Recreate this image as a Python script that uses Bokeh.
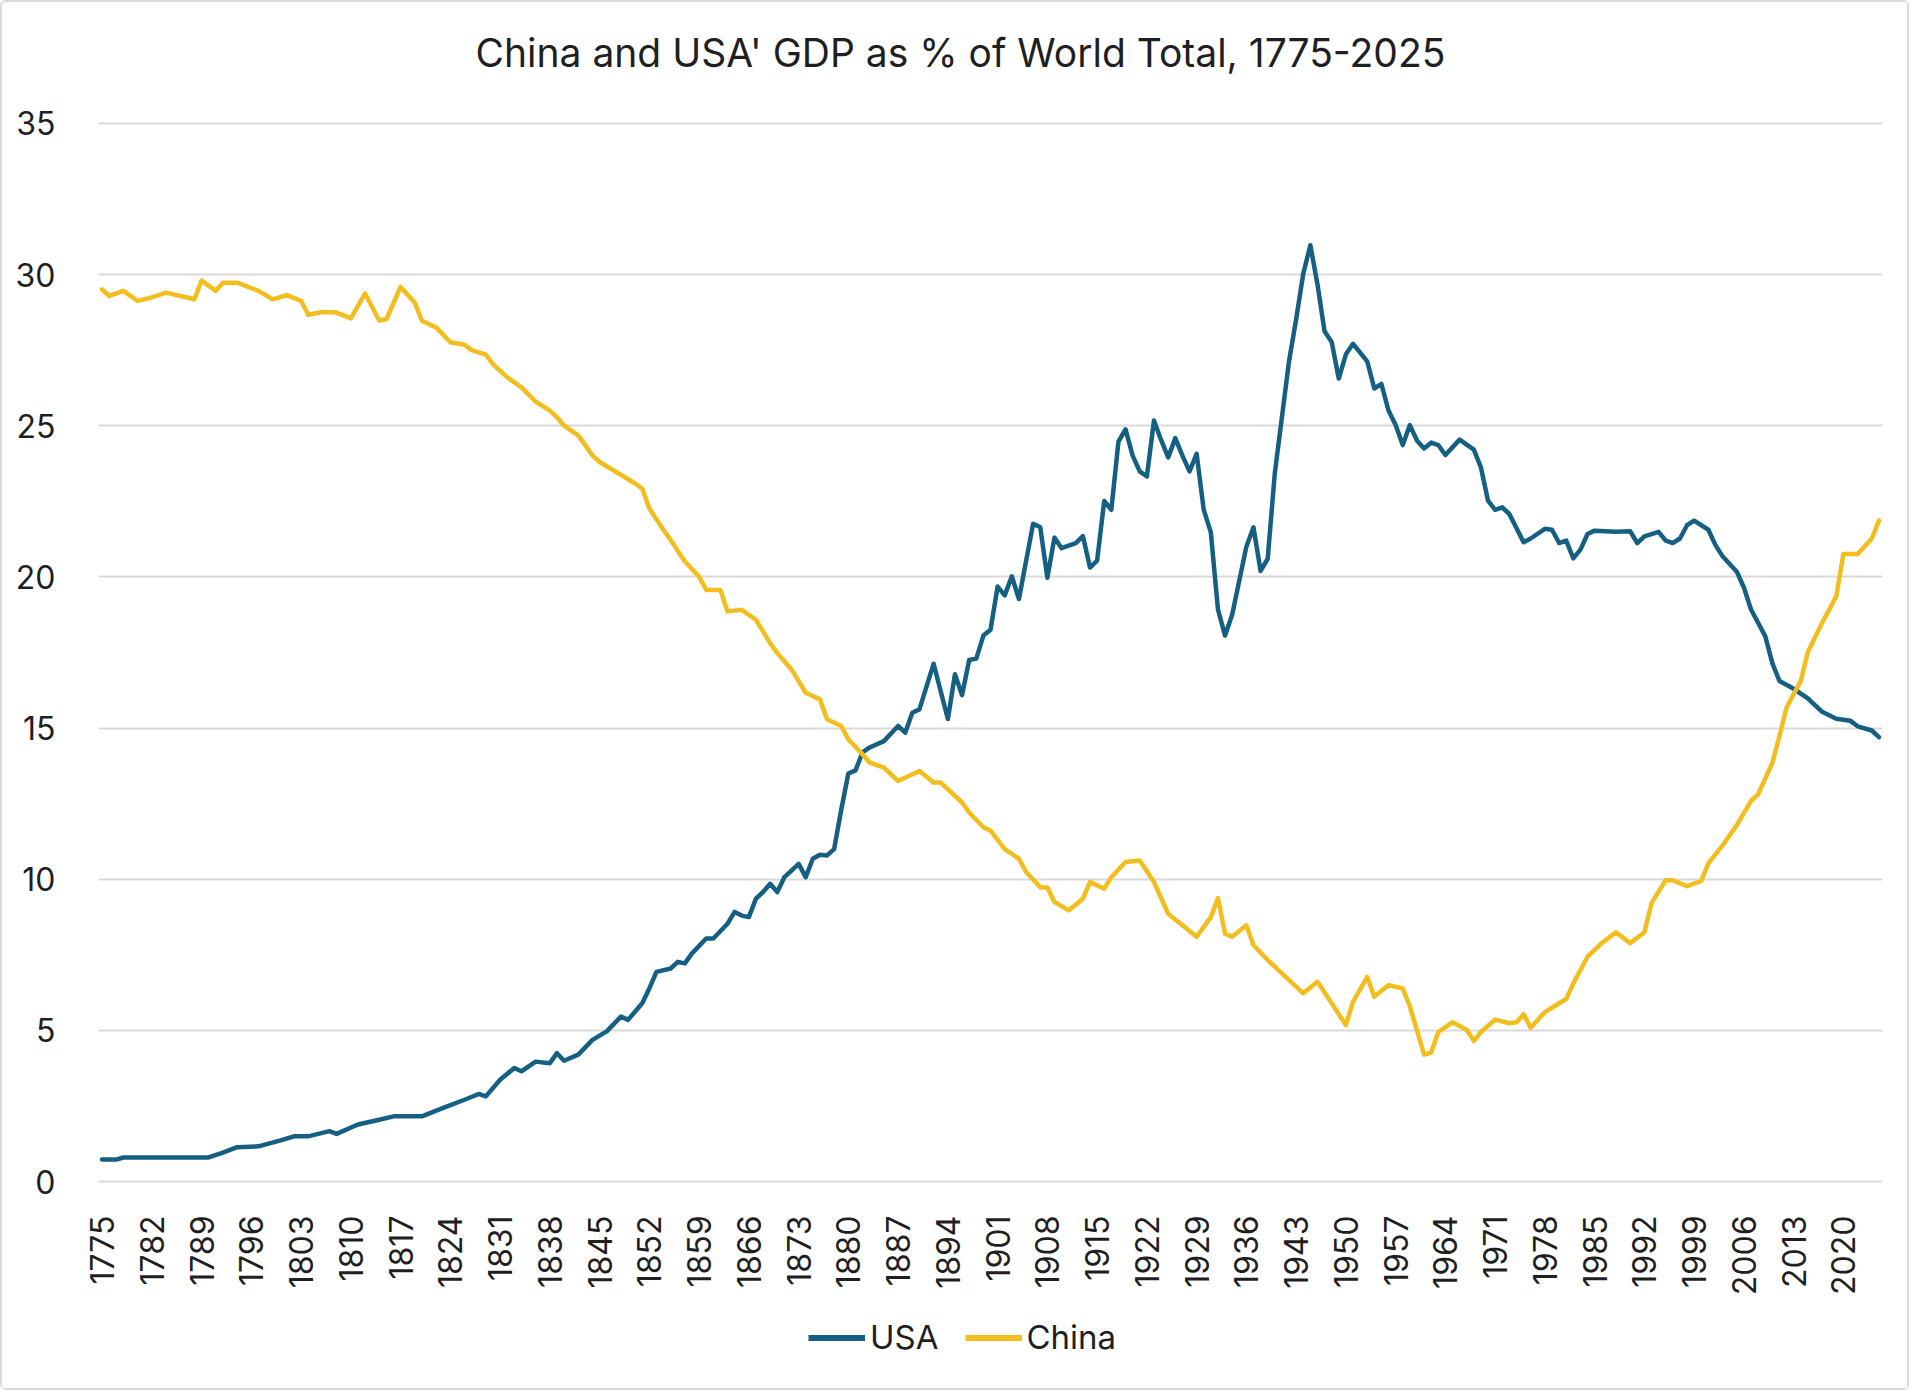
from math import pi
from bokeh.plotting import figure
from bokeh.layouts import column
from bokeh.models import FixedTicker, Legend, LegendItem, Range1d, Title
from bokeh.embed import file_html
from bokeh.resources import INLINE

# ---------------- data ----------------
usa_years = [1775, 1777, 1778, 1790, 1792, 1794, 1797, 1800, 1802, 1804,
             1807, 1808, 1811, 1814, 1816, 1820, 1823, 1826, 1828, 1829,
             1831, 1833, 1834, 1836, 1838, 1839, 1840, 1842, 1844, 1846,
             1848, 1849, 1851, 1852, 1853, 1855, 1856, 1857, 1858, 1860,
             1861, 1863, 1864, 1865, 1866, 1867, 1868, 1869, 1870, 1871,
             1872, 1873, 1874, 1875, 1876, 1877, 1878, 1879, 1880, 1881,
             1882, 1883, 1885, 1887, 1888, 1889, 1890, 1892, 1894, 1895,
             1896, 1897, 1898, 1899, 1900, 1901, 1902, 1903, 1904, 1906,
             1907, 1908, 1909, 1910, 1912, 1913, 1914, 1915, 1916, 1917,
             1918, 1919, 1920, 1921, 1922, 1923, 1924, 1925, 1926, 1927,
             1928, 1929, 1930, 1931, 1932, 1933, 1934, 1936, 1937, 1938,
             1939, 1940, 1942, 1943, 1944, 1945, 1946, 1947, 1948, 1949,
             1950, 1951, 1953, 1954, 1955, 1956, 1957, 1958, 1959, 1960,
             1961, 1962, 1963, 1964, 1966, 1968, 1969, 1970, 1971, 1972,
             1973, 1975, 1976, 1978, 1979, 1980, 1981, 1982, 1983, 1984,
             1985, 1988, 1990, 1991, 1992, 1994, 1995, 1996, 1997, 1998,
             1999, 2001, 2002, 2003, 2005, 2006, 2007, 2009, 2010, 2011,
             2013, 2015, 2017, 2019, 2021, 2022, 2024, 2025]
usa_share = [0.73, 0.73, 0.80, 0.80, 0.96, 1.14, 1.17, 1.36, 1.50, 1.50,
             1.67, 1.58, 1.89, 2.05, 2.16, 2.16, 2.44, 2.71, 2.90, 2.82,
             3.37, 3.76, 3.65, 3.97, 3.92, 4.25, 4.00, 4.20, 4.69, 4.97,
             5.46, 5.35, 5.90, 6.39, 6.94, 7.05, 7.27, 7.22, 7.55, 8.04,
             8.04, 8.53, 8.92, 8.80, 8.75, 9.36, 9.58, 9.85, 9.58, 10.07,
             10.29, 10.51, 10.07, 10.68, 10.81, 10.79, 11.00, 12.30, 13.50, 13.60,
             14.20, 14.36, 14.57, 15.07, 14.85, 15.51, 15.62, 17.13, 15.30, 16.78,
             16.09, 17.25, 17.30, 18.06, 18.25, 19.68, 19.39, 20.02, 19.27, 21.76,
             21.64, 19.97, 21.30, 20.95, 21.12, 21.35, 20.31, 20.54, 22.51, 22.22,
             24.47, 24.88, 24.01, 23.49, 23.32, 25.17, 24.53, 23.95, 24.59, 24.01,
             23.49, 24.07, 22.22, 21.47, 18.93, 18.06, 18.75, 21.00, 21.64, 20.20,
             20.60, 23.43, 27.13, 28.52, 30.02, 30.97, 29.68, 28.12, 27.77, 26.56,
             27.36, 27.71, 27.13, 26.23, 26.38, 25.50, 25.02, 24.36, 25.02, 24.51,
             24.25, 24.44, 24.36, 24.03, 24.54, 24.21, 23.62, 22.52, 22.22, 22.30,
             22.08, 21.15, 21.27, 21.59, 21.56, 21.12, 21.20, 20.61, 20.90, 21.42,
             21.53, 21.49, 21.51, 21.12, 21.34, 21.49, 21.20, 21.12, 21.27, 21.71,
             21.86, 21.56, 21.05, 20.68, 20.17, 19.65, 18.92, 18.04, 17.15, 16.56,
             16.30, 15.98, 15.54, 15.31, 15.24, 15.06, 14.92, 14.70]

china_years = [1775, 1776, 1778, 1780, 1782, 1784, 1788, 1789, 1791, 1792,
               1794, 1797, 1799, 1801, 1803, 1804, 1806, 1808, 1810, 1812,
               1814, 1815, 1817, 1819, 1820, 1822, 1824, 1826, 1827, 1829,
               1830, 1832, 1834, 1836, 1838, 1839, 1840, 1841, 1842, 1844,
               1845, 1847, 1850, 1851, 1852, 1854, 1855, 1857, 1859, 1860,
               1862, 1863, 1865, 1867, 1869, 1870, 1872, 1874, 1875, 1876,
               1877, 1879, 1880, 1882, 1883, 1885, 1887, 1890, 1892, 1893,
               1896, 1897, 1899, 1900, 1902, 1904, 1905, 1907, 1908, 1909,
               1911, 1913, 1914, 1916, 1917, 1919, 1921, 1923, 1925, 1927,
               1929, 1931, 1932, 1933, 1934, 1936, 1937, 1939, 1941, 1944,
               1946, 1948, 1950, 1951, 1953, 1954, 1956, 1958, 1959, 1960,
               1961, 1962, 1963, 1965, 1967, 1968, 1969, 1971, 1973, 1974,
               1975, 1976, 1978, 1980, 1981, 1982, 1984, 1986, 1988, 1990,
               1992, 1993, 1995, 1996, 1998, 2000, 2001, 2003, 2005, 2007,
               2008, 2010, 2011, 2012, 2014, 2015, 2017, 2019, 2020, 2022,
               2024, 2025]
china_share = [29.51, 29.29, 29.46, 29.13, 29.24, 29.40, 29.18, 29.80, 29.46, 29.73,
               29.73, 29.46, 29.18, 29.32, 29.13, 28.67, 28.76, 28.74, 28.55, 29.37,
               28.48, 28.52, 29.59, 29.07, 28.47, 28.25, 27.76, 27.68, 27.50, 27.35,
               27.04, 26.60, 26.27, 25.80, 25.50, 25.28, 25.00, 24.84, 24.68, 24.02,
               23.80, 23.52, 23.09, 22.92, 22.26, 21.55, 21.22, 20.51, 20.01, 19.57,
               19.57, 18.86, 18.91, 18.58, 17.81, 17.48, 16.94, 16.17, 16.06, 15.95,
               15.29, 15.07, 14.63, 14.13, 13.86, 13.69, 13.25, 13.58, 13.20, 13.20,
               12.54, 12.21, 11.72, 11.61, 11.00, 10.68, 10.24, 9.74, 9.73, 9.25,
               8.97, 9.36, 9.91, 9.69, 10.07, 10.57, 10.62, 9.91, 8.86, 8.48,
               8.10, 8.75, 9.38, 8.20, 8.10, 8.48, 7.82, 7.33, 6.89, 6.23,
               6.61, 5.90, 5.18, 5.95, 6.77, 6.12, 6.50, 6.39, 5.80, 5.00,
               4.20, 4.27, 4.95, 5.27, 5.02, 4.65, 4.95, 5.36, 5.24, 5.27,
               5.54, 5.09, 5.61, 5.90, 6.04, 6.56, 7.44, 7.89, 8.25, 7.89,
               8.25, 9.21, 9.97, 9.97, 9.77, 9.95, 10.53, 11.12, 11.79, 12.59,
               12.81, 13.85, 14.73, 15.68, 16.56, 17.52, 18.48, 19.36, 20.76, 20.76,
               21.27, 21.86]

x_tick_years = list(range(1775, 2021, 7))
y_ticks = [0, 5, 10, 15, 20, 25, 30, 35]

title_text = "China and USA' GDP as % of World Total, 1775-2025"
series_names = ["USA", "China"]
series_colors = ["#156082", "#F2BD1D"]

FONT = "Inter"
TEXT = "#1f1f1f"

# ---------------- main chart ----------------
p = figure(frame_width=1784, frame_height=1062, output_backend="svg",
           toolbar_location=None, title=None,
           x_range=Range1d(1774.5, 2025.5), y_range=Range1d(-0.06, 35.06),
           min_border_left=96, min_border_right=25, min_border_top=119,
           min_border_bottom=135, background_fill_color="white",
           border_fill_color="white")

# spacer between the plot area and the title (closest to the frame)
p.add_layout(Title(text=" ", text_font_size="1px", standoff=38), "above")
p.add_layout(Title(text=title_text, align="left", offset=377,
                   vertical_align="bottom", standoff=10,
                   text_font=FONT, text_font_size="39px",
                   text_font_style="normal", text_color=TEXT), "above")

p.outline_line_color = None
p.xgrid.visible = False
p.ygrid.grid_line_color = "#d9d9d9"
p.ygrid.grid_line_width = 2

for ax in (p.xaxis[0], p.yaxis[0]):
    ax.axis_line_color = None
    ax.major_tick_line_color = None
    ax.minor_tick_line_color = None
    ax.major_label_text_font = FONT
    ax.major_label_text_font_size = "32px"
    ax.major_label_text_color = TEXT

p.xaxis[0].ticker = FixedTicker(ticks=x_tick_years)
p.xaxis[0].major_label_orientation = pi / 2
p.xaxis[0].major_label_standoff = 26
p.yaxis[0].ticker = FixedTicker(ticks=y_ticks)
p.yaxis[0].major_label_standoff = 37

p.line(usa_years, usa_share, line_color=series_colors[0], line_width=4.5,
       line_join="round", line_cap="round")
p.line(china_years, china_share, line_color=series_colors[1], line_width=4.5,
       line_join="round", line_cap="round")

# ---------------- legend strip under the chart ----------------
nan = float("nan")
lg = figure(width=1905, height=70, output_backend="svg", toolbar_location=None,
            x_axis_type=None, y_axis_type=None, x_range=Range1d(0, 1),
            y_range=Range1d(0, 1), min_border=0, outline_line_color=None,
            background_fill_color="white", border_fill_color="white")
lg.xgrid.visible = False
lg.ygrid.visible = False
# legend keys only (no visible data)
key_usa = lg.line(x=[nan, nan], y=[nan, nan], line_color=series_colors[0], line_width=6)
key_china = lg.line(x=[nan, nan], y=[nan, nan], line_color=series_colors[1], line_width=6)

legend = Legend(items=[LegendItem(label=series_names[0], renderers=[key_usa]),
                       LegendItem(label=series_names[1], renderers=[key_china])],
                orientation="horizontal", location=(710, 31),
                glyph_width=57, glyph_height=33, label_height=33,
                label_text_font=FONT, label_text_font_size="33px",
                label_text_color=TEXT, label_standoff=5, spacing=26,
                padding=0, margin=0, border_line_color=None,
                background_fill_alpha=0)
lg.add_layout(legend)

layout = column(p, lg, spacing=0,
                styles={"border": "2px solid #d9d9d9", "border-radius": "6px"})

open("out.html", "w").write(file_html(layout, INLINE))
